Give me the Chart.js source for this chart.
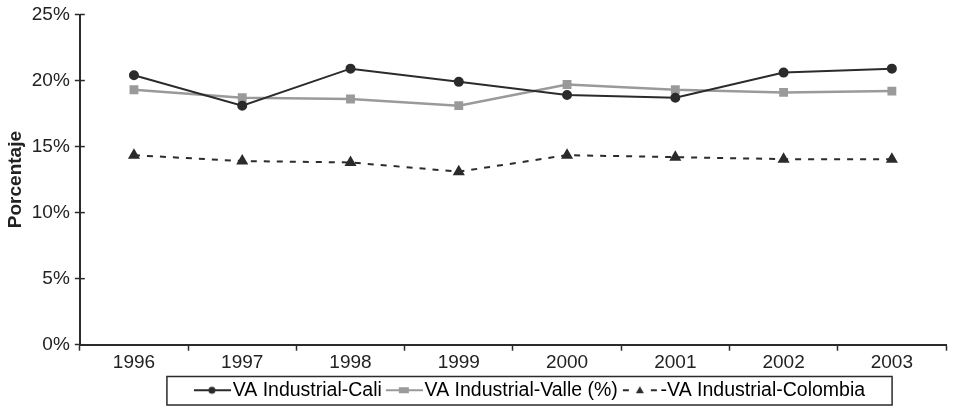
<!DOCTYPE html>
<html>
<head>
<meta charset="utf-8">
<script src="https://cdn.jsdelivr.net/npm/chart.js@4/dist/chart.umd.min.js"></script>
<style>
  body { margin: 0; background: #fff; }
  #wrap { width: 954px; height: 410px; }
</style>
</head>
<body>
<div id="wrap"><canvas id="chart" width="954" height="410"></canvas></div>
<script>
const years = ['1996', '1997', '1998', '1999', '2000', '2001', '2002', '2003'];
const cali = [20.4, 18.1, 20.9, 19.9, 18.9, 18.7, 20.6, 20.9];
const valle = [19.3, 18.7, 18.6, 18.1, 19.7, 19.3, 19.1, 19.2];
const colombia = [14.35, 13.9, 13.8, 13.1, 14.35, 14.2, 14.05, 14.05];
const seriesNames = ['VA Industrial-Cali', 'VA Industrial-Valle (%)', '-VA Industrial-Colombia'];

const dark = '#2b2b2b';
const grey = '#9a9a9a';

// legend icons (line + marker); icon sits in the right 37px of a 44px canvas
function legendIcon(color, shape) {
    const c = document.createElement('canvas');
    c.width = 44; c.height = 12;
    const g = c.getContext('2d');
    g.strokeStyle = color;
    g.fillStyle = color;
    g.lineWidth = 2;
    const x0 = 7, cx = 7 + 18;
    if (shape === 'triangle') {
        g.fillRect(x0 + 1, 5, 6, 2);
        g.fillRect(x0 + 29, 5, 6, 2);
        g.beginPath(); g.moveTo(cx, 2); g.lineTo(cx + 4, 9); g.lineTo(cx - 4, 9); g.closePath(); g.fill();
        return c;
    }
    g.beginPath(); g.moveTo(x0, 6); g.lineTo(44, 6); g.stroke();
    if (shape === 'circle') {
        g.beginPath(); g.arc(cx, 6, 3.5, 0, Math.PI * 2); g.fill();
    } else {
        g.fillRect(cx - 5, 3, 10, 6);
    }
    return c;
}

const extras = {
    id: 'extras',
    afterLayout(chart) {
        // legend in the reference sits right of the canvas centre
        chart.legend.left += 55;
        chart.legend.right += 55;
    },
    afterDraw(chart) {
        const ctx = chart.ctx;
        ctx.save();
        ctx.strokeStyle = dark;
        // inward y ticks
        const y = chart.scales.y;
        ctx.lineWidth = 1.5;
        y.ticks.forEach(t => {
            const py = y.getPixelForValue(t.value);
            ctx.beginPath(); ctx.moveTo(y.right, py); ctx.lineTo(y.right + 5, py); ctx.stroke();
        });
        // legend frame
        const boxes = chart.legend.legendHitBoxes;
        if (boxes && boxes.length) {
            let l = Infinity, r = -Infinity, t = Infinity, b = -Infinity;
            boxes.forEach(h => {
                l = Math.min(l, h.left); r = Math.max(r, h.left + h.width);
                t = Math.min(t, h.top); b = Math.max(b, h.top + h.height);
            });
            ctx.lineWidth = 1.5;
            ctx.strokeRect(l - 28, t - 4, r - l + 55, b - t + 9);
        }
        ctx.restore();
    }
};

new Chart(document.getElementById('chart'), {
    type: 'line',
    data: {
        labels: years,
        datasets: [
            {
                label: seriesNames[0], data: cali,
                borderColor: dark, backgroundColor: dark, borderWidth: 2,
                pointStyle: 'circle', pointRadius: 4, tension: 0
            },
            {
                label: seriesNames[1], data: valle,
                borderColor: grey, backgroundColor: grey, borderWidth: 2.5,
                pointStyle: 'rect', pointRadius: 4.5, tension: 0
            },
            {
                label: seriesNames[2], data: colombia,
                borderColor: dark, backgroundColor: dark, borderWidth: 2,
                borderDash: [6, 7],
                pointStyle: 'triangle', pointRadius: 5, tension: 0
            }
        ]
    },
    options: {
        responsive: false,
        animation: false,
        layout: { padding: { top: 4, right: 8, bottom: 0, left: 4 } },
        plugins: {
            tooltip: { enabled: false },
            legend: {
                position: 'bottom',
                labels: {
                    usePointStyle: true,
                    pointStyleWidth: 28,
                    boxHeight: 12,
                    padding: 5,
                    color: '#222',
                    font: { family: 'Liberation Sans', size: 19.5 },
                    generateLabels(chart) {
                        const icons = [legendIcon(dark, 'circle'), legendIcon(grey, 'rect'), legendIcon(dark, 'triangle')];
                        return chart.data.datasets.map((ds, i) => ({
                            text: ds.label,
                            pointStyle: icons[i],
                            fillStyle: 'transparent',
                            strokeStyle: 'transparent',
                            lineWidth: 0,
                            datasetIndex: i,
                            hidden: false
                        }));
                    }
                }
            }
        },
        scales: {
            x: {
                offset: true,
                grid: { offset: true, drawOnChartArea: false, tickLength: 6, color: dark, tickWidth: 1.5 },
                border: { color: dark, width: 2 },
                ticks: { color: '#222', padding: 1, font: { family: 'Liberation Sans', size: 19 } }
            },
            y: {
                min: 0, max: 25,
                grid: { drawOnChartArea: false, tickLength: 5, color: dark, tickWidth: 1.5 },
                border: { color: dark, width: 2 },
                ticks: {
                    stepSize: 5, color: '#222', padding: 5,
                    font: { family: 'Liberation Sans', size: 19, lineHeight: 1 },
                    callback: v => v + '%'
                },
                title: {
                    display: true, text: 'Porcentaje', color: '#222',
                    padding: { top: 0, bottom: 0 },
                    font: { family: 'Liberation Sans', size: 19, weight: 'bold' }
                }
            }
        }
    },
    plugins: [extras]
});
</script>
</body>
</html>
